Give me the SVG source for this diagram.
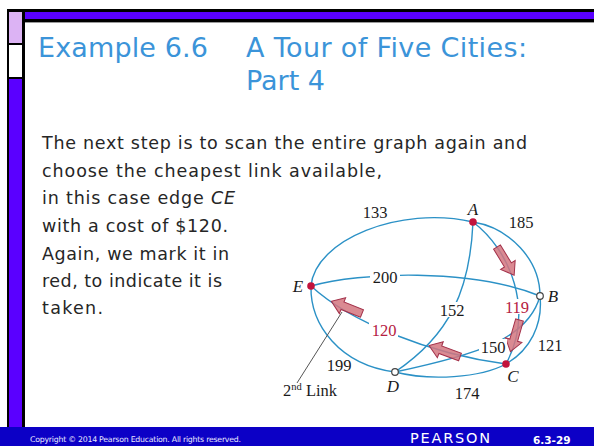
<svg xmlns="http://www.w3.org/2000/svg" width="594" height="446" viewBox="0 0 594 446">
<defs>
<style>
.title{font-family:"DejaVu Sans",sans-serif;font-size:27px;fill:#3b94d9}
.body{font-family:"DejaVu Sans",sans-serif;font-size:17.5px;fill:#262626}
.edge{fill:none;stroke:#2b91c6;stroke-width:1.4}
.lbl{font-family:"Liberation Serif",serif;font-size:16.5px;fill:#1a1a1a}
.red{fill:#b5203f}
.node{font-family:"Liberation Serif",serif;font-size:17px;font-style:italic;fill:#1a1a1a}
.bg{fill:#ffffff}
.arrow{fill:#d4757f;fill-opacity:0.85;stroke:#a3314a;stroke-width:1}
.dot{fill:#c2133c}
.open{fill:#ffffff;stroke:#444;stroke-width:1.2}
</style>
<path id="arr" d="M0,-4 L21,-4 L21,-8.5 L33,0 L21,8.5 L21,4 L0,4 Z"/>
</defs>
<rect width="594" height="446" fill="#ffffff"/>
<g id="frame">
<rect x="7" y="9" width="587" height="13" fill="#000"/>
<rect x="25" y="12" width="569" height="7" fill="#5a00ff"/>
<line x1="25" y1="22.5" x2="594" y2="22.5" stroke="#9a9a9a" stroke-width="1"/>
<rect x="7" y="9" width="18" height="418" fill="#000"/>
<rect x="9" y="12" width="13" height="31" fill="#dcb3f4"/>
<rect x="9" y="45" width="13" height="32" fill="#ffffff"/>
<rect x="9" y="79" width="13" height="348" fill="#5a00ff"/>
<rect x="0" y="427" width="594" height="19" fill="#0c00c6"/>
</g>
<g id="title">
<text class="title" x="38" y="57" textLength="170">Example 6.6</text>
<text class="title" x="246" y="57" textLength="281">A Tour of Five Cities:</text>
<text class="title" x="246" y="90" textLength="79">Part 4</text>
</g>
<g id="bodytext">
<text class="body" x="42" y="149" textLength="485">The next step is to scan the entire graph again and</text>
<text class="body" x="42" y="177" textLength="340">choose the cheapest link available,</text>
<text class="body" x="42" y="204" textLength="193">in this case edge <tspan font-style="italic">CE</tspan></text>
<text class="body" x="42" y="232" textLength="186">with a cost of $120.</text>
<text class="body" x="42" y="260" textLength="187">Again, we mark it in</text>
<text class="body" x="42" y="287" textLength="180">red, to indicate it is</text>
<text class="body" x="42" y="314" textLength="61">taken.</text>
</g>
<g id="connectors">
<path class="edge" d="M311,286 C315,240 400,205 473,222"/>
<path class="edge" d="M473,222 C510,228 540,260 540,296"/>
<path class="edge" d="M540,296 C543,325 530,350 506,364"/>
<path class="edge" d="M506,364 C480,378 430,381 395,372"/>
<path class="edge" d="M311,286 C310,325 340,365 395,372"/>
<path class="edge" d="M311,286 C360,272 470,268 540,296"/>
<path class="edge" d="M473,222 C470,290 450,335 395,372"/>
<path class="edge" d="M473,222 C510,250 535,310 506,364"/>
<path class="edge" d="M540,296 C528,340 475,355 395,372"/>
<path class="edge" d="M311,286 C350,322 430,354 506,364"/>
<line x1="297" y1="383" x2="342" y2="312" stroke="#555" stroke-width="1"/>
</g>
<g id="arrows">
<use href="#arr" class="arrow" transform="translate(497,247) rotate(58.7)"/>
<use href="#arr" class="arrow" transform="translate(519.5,320) rotate(106)"/>
<use href="#arr" class="arrow" transform="translate(460,357) rotate(200.3)"/>
<use href="#arr" class="arrow" transform="translate(362,313.5) rotate(201.7)"/>
</g>
<g id="edge-labels">
<text class="lbl" x="375" y="218" text-anchor="middle">133</text>
<text class="lbl" x="521" y="228" text-anchor="middle">185</text>
<rect class="bg" x="370" y="269" width="30" height="14"/>
<text class="lbl" x="385" y="283" text-anchor="middle">200</text>
<rect class="bg" x="439" y="302" width="25" height="15"/>
<text class="lbl" x="452" y="316" text-anchor="middle">152</text>
<rect class="bg" x="504" y="299" width="27" height="15"/>
<text class="lbl red" x="517" y="313" text-anchor="middle">119</text>
<rect class="bg" x="369" y="322" width="29" height="15"/>
<text class="lbl red" x="384" y="336" text-anchor="middle">120</text>
<rect class="bg" x="479" y="339" width="28" height="15"/>
<text class="lbl" x="493" y="353" text-anchor="middle">150</text>
<text class="lbl" x="550" y="351" text-anchor="middle">121</text>
<text class="lbl" x="339" y="371" text-anchor="middle">199</text>
<text class="lbl" x="467" y="399" text-anchor="middle">174</text>
<text class="lbl" x="283" y="396">2<tspan font-size="10.5px" dy="-6">nd</tspan><tspan dy="6"> Link</tspan></text>
</g>
<g id="node-A"><circle class="dot" cx="473" cy="222" r="3.8"/><text class="node" x="473" y="215" text-anchor="middle">A</text></g>
<g id="node-B"><circle class="open" cx="540" cy="296" r="3.3"/><text class="node" x="553" y="302" text-anchor="middle">B</text></g>
<g id="node-C"><circle class="dot" cx="506" cy="364" r="3.8"/><text class="node" x="513" y="382" text-anchor="middle">C</text></g>
<g id="node-D"><circle class="open" cx="395" cy="372" r="3.3"/><text class="node" x="393" y="392" text-anchor="middle">D</text></g>
<g id="node-E"><circle class="dot" cx="311" cy="286" r="3.8"/><text class="node" x="298" y="292" text-anchor="middle">E</text></g>
<g id="footer">
<text x="30" y="442" font-family="DejaVu Sans,sans-serif" font-size="7.8" fill="#e8e8ff" textLength="211">Copyright © 2014  Pearson Education. All rights reserved.</text>
<text x="410" y="443" font-family="DejaVu Sans,sans-serif" font-size="14.5" fill="#ffffff" textLength="80">PEARSON</text>
<text x="533" y="444" font-family="DejaVu Sans,sans-serif" font-size="10.5" font-weight="bold" fill="#ffffff">6.3-29</text>
</g>
</svg>
